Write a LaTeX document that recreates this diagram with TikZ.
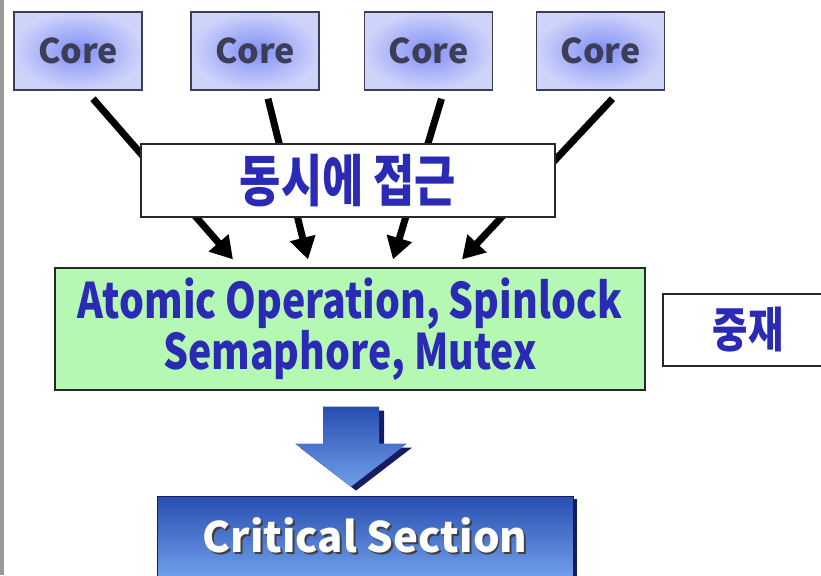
\documentclass[tikz,border=0pt]{standalone}
\usepackage{fontspec}
\setmainfont{Noto Sans CJK KR}
\newfontfamily\narrowfont{Noto Sans CJK KR}[FakeStretch=0.8]
\usetikzlibrary{arrows.meta,positioning,calc,shadows}
\definecolor{lockdiagcore}{RGB}{128,142,245}
\definecolor{lockdiagrim}{RGB}{206,211,250}
\definecolor{lockdiaggreen}{RGB}{180,248,180}
\definecolor{lockdiagink}{RGB}{42,42,180}
\definecolor{lockdiagslate}{RGB}{60,62,88}
\definecolor{lockdiagtop}{RGB}{40,78,176}
\definecolor{lockdiagbottom}{RGB}{112,158,234}
\definecolor{lockdiagnavy}{RGB}{22,28,100}
\definecolor{lockdiagdark}{RGB}{40,40,40}
\newcommand{\dropshadow}[1]{\makebox[0pt][l]{\hspace{2pt}\raisebox{-2pt}{\color{black!75}#1}}#1}
\tikzset{
  core box/.style={
    draw=lockdiagslate,
    line width=1.5pt,
    shading=radial,
    inner color=lockdiagcore,
    outer color=lockdiagrim,
    minimum width=128pt,
    minimum height=78pt,
    inner sep=0pt,
    text=lockdiagslate,
    font=\fontsize{34}{34}\selectfont\bfseries,
  },
  plain box/.style={
    draw=lockdiagdark,
    line width=1.2pt,
    fill=white,
    inner sep=0pt,
    text=lockdiagink,
  },
  access arrow/.style={
    -{Triangle[length=22pt,width=25pt]},
    line width=7pt,
    draw=black,
  },
}

\begin{document}
\begin{tikzpicture}[x=1pt,y=-1pt]
  \useasboundingbox (0,0) rectangle (821,575);
  \clip (0,0) rectangle (821,575);
  \fill[gray!80] (0,0) rectangle (4,575);

  \node[core box] (core1) at (78,51) {Core};
  \node[core box] (core2) at (255,51) {Core};
  \node[core box] (core3) at (428.5,51) {Core};
  \node[core box] (core4) at (600.5,51) {Core};

  \node[draw=lockdiagdark, line width=1.2pt, fill=lockdiaggreen, minimum width=590pt, minimum height=122pt,
    align=center, text=lockdiagink, font=\narrowfont\fontsize{49}{48}\selectfont\bfseries] (guard) at (350,329)
    {Atomic Operation, Spinlock\\Semaphore, Mutex};
  \node[plain box, minimum width=170pt, minimum height=72pt, font=\narrowfont\fontsize{48}{48}\selectfont\bfseries] (mediate) at (748,330)
    {중재};

  \draw[access arrow] ($(core1.south)+(15,8)$) -- ($(guard.north)+(-117,-8)$);
  \draw[access arrow] ($(core2.south)+(13,8)$) -- ($(guard.north)+(-42,-8)$);
  \draw[access arrow] ($(core3.south)+(13,8)$) -- ($(guard.north)+(43,-8)$);
  \draw[access arrow] ($(core4.south)+(12,8)$) -- ($(guard.north)+(112,-8)$);

  \node[plain box, minimum width=414pt, minimum height=73pt, font=\narrowfont\fontsize{56}{56}\selectfont\bfseries] (sync) at (348,180.5)
    {동시에 접근};

  \node[draw=lockdiagnavy, line width=0.8pt, top color=lockdiagtop, bottom color=lockdiagbottom,
    minimum width=416pt, minimum height=80pt, text=white, font=\fontsize{42}{42}\selectfont\bfseries,
    drop shadow={shadow xshift=4pt, shadow yshift=-3pt, fill=lockdiagnavy, opacity=1}] (crit) at (365,536)
    {\dropshadow{Critical Section}};

  % block arrow between the lock box and the section
  \coordinate (flow) at ($(guard.south)+(1,53)$);
  \begin{scope}[shift={(flow)}]
    \fill[lockdiagnavy] (-23,-33) -- (33,-33) -- (33,4) -- (61,4) -- (5,47) -- (-51,4) -- (-23,4) -- cycle;
    \shade[top color=lockdiagtop, bottom color=lockdiagbottom] (-28,-37) -- (28,-37) -- (28,0) -- (56,0) -- (0,43) -- (-56,0) -- (-28,0) -- cycle;
  \end{scope}
\end{tikzpicture}
\end{document}
